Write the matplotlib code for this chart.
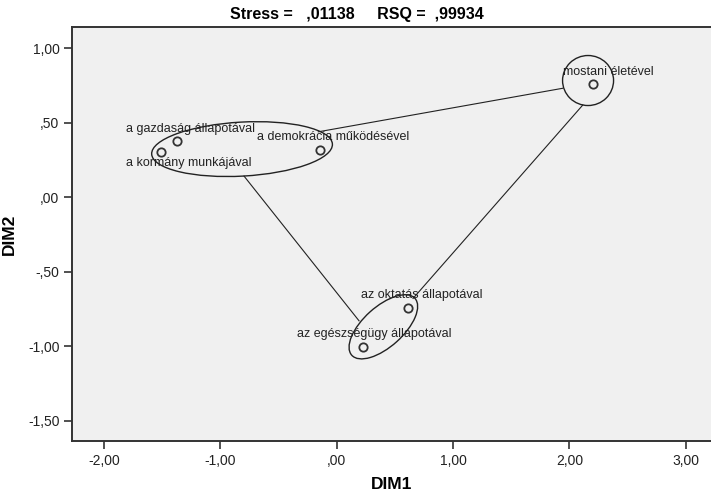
# Python script for the MDS configuration plot (Stress / RSQ)

import numpy as np
import matplotlib
matplotlib.use('Agg')
import matplotlib.pyplot as plt
import matplotlib.transforms as transforms
from matplotlib.patches import Ellipse

#==========================================================
# Data: stimulus coordinates (DIM1, DIM2)
#==========================================================
labels = ['a gazdaság állapotával', 'a kormány munkájával',
          'a demokrácia működésével', 'mostani életével',
          'az oktatás állapotával', 'az egészségügy állapotával']
dim1 = [-1.371, -1.513, -0.144, 2.207, 0.610, 0.223]
dim2 = [0.376, 0.302, 0.315, 0.756, -0.743, -1.005]

# label offsets (points) relative to each stimulus
lab_dx = [-37, -25, -45.5, -22, -33.5, -47.5]
lab_dy = [9, -8, 9.5, 9, 9, 9.5]

# hand drawn cluster outlines: centre (data), width / height (px), angle
ell_x = [-0.814, 2.161, 0.401]
ell_y = [0.322, 0.782, -0.870]
ell_w = [181, 51, 85]
ell_h = [54, 50, 40]
ell_a = [3.2, 0, 42]

# connecting lines between the clusters
link_x = [[-0.158, 1.943], [-0.797, 0.192], [2.115, 0.656]]
link_y = [[0.438, 0.730], [0.141, -0.830], [0.617, -0.680]]

xticks = [-2, -1, 0, 1, 2, 3]
yticks = [-1.5, -1.0, -0.5, 0.0, 0.5, 1.0]

def spss_fmt(v):
    s = '%.2f' % v
    s = s.replace('.', ',')
    s = s.replace('-0,', '-,')
    if s.startswith('0,'):
        s = s[1:]
    return s

#==========================================================
# plot
#==========================================================
plt.rcParams['font.family'] = ['Liberation Sans', 'DejaVu Sans']

fig = plt.figure(figsize=(7.11, 4.94), dpi=100)
ax = fig.add_axes([72/711, 53/494, 639/711, 414/494])
ax.set_facecolor('#f0f0f0')

ax.plot(dim1, dim2, 'o', markersize=6, markerfacecolor='none',
        markeredgecolor='#333333', markeredgewidth=1.3, zorder=5)

for i in range(len(labels)):
    ax.annotate(labels[i], (dim1[i], dim2[i]), xytext=(lab_dx[i], lab_dy[i]),
                textcoords='offset points', ha='left', va='center',
                fontsize=9, color='#222222', zorder=6)

for i in range(len(ell_x)):
    trans = fig.dpi_scale_trans + transforms.ScaledTranslation(ell_x[i], ell_y[i], ax.transData)
    e = Ellipse((0, 0), ell_w[i]/100, ell_h[i]/100, angle=ell_a[i],
                transform=trans, fill=False, edgecolor='#222222', linewidth=1.0, zorder=4)
    ax.add_patch(e)

for i in range(len(link_x)):
    ax.plot(link_x[i], link_y[i], color='#222222', linewidth=0.8, zorder=3)

ax.set_xlim([-2.276, 3.218])
ax.set_ylim([-1.636, 1.141])
ax.set_xticks(xticks)
ax.set_yticks(yticks)
ax.set_xticklabels([spss_fmt(v) for v in xticks])
ax.set_yticklabels([spss_fmt(v) for v in yticks])
ax.tick_params(labelsize=10, direction='out', length=6, width=1.2,
               color='#333333', labelcolor='#222222', pad=3)

for s in ['left', 'bottom', 'top']:
    ax.spines[s].set_linewidth(1.4)
    ax.spines[s].set_color('#333333')
ax.spines['right'].set_visible(False)

ax.set_xlabel('DIM1', fontsize=12.5, fontweight='bold', labelpad=7)
ax.set_ylabel('DIM2', fontsize=12.5, fontweight='bold', labelpad=8)

fig.text(357/711, 1-15/494, 'Stress =   ,01138     RSQ =  ,99934',
         ha='center', va='center', fontsize=11.5, fontweight='bold')

plt.savefig('out.png', dpi=100)
plt.close()
